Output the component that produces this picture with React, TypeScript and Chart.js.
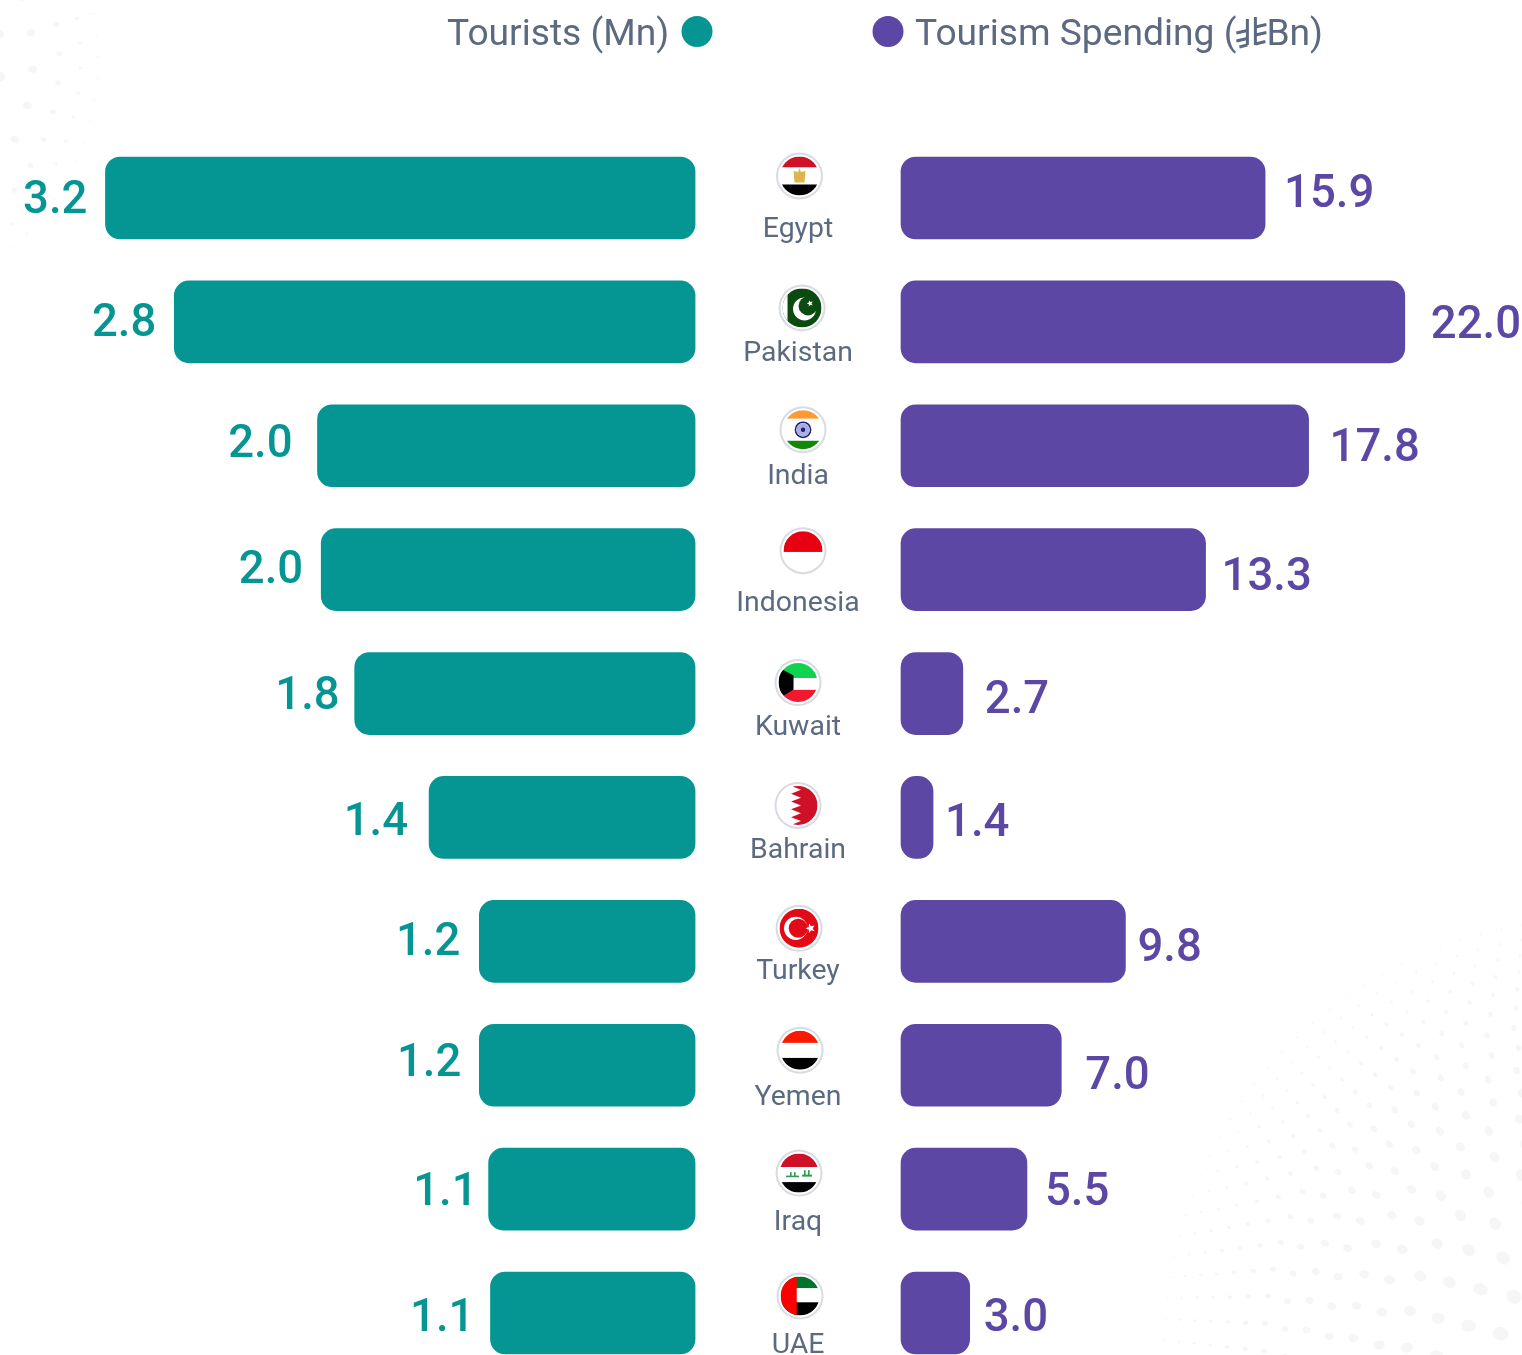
import React, { useEffect, useRef } from "react";
import { Chart, registerables } from "chart.js";

Chart.register(...registerables);

const countries = ["Egypt", "Pakistan", "India", "Indonesia", "Kuwait", "Bahrain", "Turkey", "Yemen", "Iraq", "UAE"];
const tourists = [3.17, 2.8, 2.03, 2.01, 1.83, 1.43, 1.16, 1.16, 1.11, 1.1];
const spending = [15.9, 22.0, 17.8, 13.3, 2.7, 1.4, 9.8, 7.0, 5.5, 3.0];
const touristLabels = ["3.2", "2.8", "2.0", "2.0", "1.8", "1.4", "1.2", "1.2", "1.1", "1.1"];
const spendingLabels = ["15.9", "22.0", "17.8", "13.3", "2.7", "1.4", "9.8", "7.0", "5.5", "3.0"];

// Hand placement of the annotations around each bar (as in the original graphic)
const leftGap = [18, 18, 25, 18, 15, 21, 19, 18, 11, 16];
const leftNudge = [-1, -2, -5, -3, -1, 2, -2, -5, 0, 2];
const rightGap = [19, 26, 21, 16, 22, 12, 12, 24, 18, 14];
const rightNudge = [-7, 0, -1, 4, 3, 3, 4, 8, 0, 2];
const nameBase = [39, 39, 38, 41, 41, 40.5, 38, 40, 41, 40];
const flagDx = [1.5, 4, 5, 5, 0, 0, 1, 2, 1, 2];
const flagDy = [-22, -14, -16, -19, -11, -12, -13, -15, -16, -17];

const TEAL = "#059693";
const PURPLE = "#5c48a4";
const SLATE = "#5b6a80";
const FONT = "Roboto, sans-serif";

type C = CanvasRenderingContext2D;

function bands(c: C, x: number, y: number, r: number, cols: string[], cuts: number[]) {
  const edges = [-r, ...cuts, r];
  cols.forEach((col, i) => {
    c.fillStyle = col;
    c.fillRect(x - r, y + edges[i], 2 * r, edges[i + 1] - edges[i]);
  });
}
function star(c: C, x: number, y: number, R: number, rot: number, col: string) {
  c.fillStyle = col;
  c.beginPath();
  for (let i = 0; i < 10; i++) {
    const a = rot + (i * Math.PI) / 5;
    const q = i % 2 ? R * 0.42 : R;
    c.lineTo(x + q * Math.cos(a), y + q * Math.sin(a));
  }
  c.closePath();
  c.fill();
}
function disc(c: C, x: number, y: number, r: number, col: string) {
  c.fillStyle = col;
  c.beginPath();
  c.arc(x, y, r, 0, Math.PI * 2);
  c.fill();
}

const painters: Record<string, (c: C, x: number, y: number, r: number) => void> = {
  Egypt(c, x, y, r) {
    bands(c, x, y, r, ["#ce1126", "#ffffff", "#000000"], [-8.5, 8.5]);
    c.fillStyle = "#d9b64e";
    c.beginPath();
    c.moveTo(x - 6, y - 5);
    c.lineTo(x - 1.5, y - 4);
    c.lineTo(x, y - 8);
    c.lineTo(x + 1.5, y - 4);
    c.lineTo(x + 6, y - 5);
    c.lineTo(x + 5, y + 6.5);
    c.lineTo(x - 5, y + 6.5);
    c.closePath();
    c.fill();
  },
  Pakistan(c, x, y, r) {
    c.fillStyle = "#0b4b11";
    c.fillRect(x - r, y - r, 2 * r, 2 * r);
    c.fillStyle = "#ffffff";
    c.fillRect(x - r, y - r, 5, 2 * r);
    disc(c, x + 2.5, y + 1, 11.5, "#ffffff");
    disc(c, x + 6, y - 2, 9.5, "#0b4b11");
    star(c, x + 8, y - 4.5, 3.4, -0.6, "#ffffff");
  },
  India(c, x, y, r) {
    bands(c, x, y, r, ["#ff9a33", "#ffffff", "#138808"], [-11, 11]);
    c.strokeStyle = "#1d1f86";
    c.lineWidth = 1.6;
    c.beginPath();
    c.arc(x, y, 7.6, 0, Math.PI * 2);
    c.stroke();
    disc(c, x, y, 6.6, "#aab0da");
    disc(c, x, y, 2.2, "#1d1f86");
  },
  Indonesia(c, x, y, r) {
    bands(c, x, y, r, ["#e70011", "#ffffff"], [1.3]);
  },
  Kuwait(c, x, y, r) {
    bands(c, x, y, r, ["#0fd24e", "#ffffff", "#f31830"], [-4.5, 7.3]);
    c.fillStyle = "#000000";
    c.beginPath();
    c.moveTo(x - r + 2, y - 14);
    c.lineTo(x - 4.5, y - 7);
    c.lineTo(x - 4.5, y + 7);
    c.lineTo(x - r + 2, y + 15);
    c.lineTo(x - r, y + 15);
    c.lineTo(x - r, y - 14);
    c.closePath();
    c.fill();
  },
  Bahrain(c, x, y, r) {
    c.fillStyle = "#ffffff";
    c.fillRect(x - r, y - r, 2 * r, 2 * r);
    c.fillStyle = "#ce1126";
    c.beginPath();
    c.moveTo(x - 7, y - r);
    c.lineTo(x + r, y - r);
    c.lineTo(x + r, y + r);
    c.lineTo(x - 7, y + r);
    const n = 5;
    const h = (2 * r) / n;
    for (let i = n - 1; i >= 0; i--) {
      c.lineTo(x + 3, y - r + (i + 0.5) * h);
      c.lineTo(x - 7, y - r + i * h);
    }
    c.closePath();
    c.fill();
  },
  Turkey(c, x, y, r) {
    c.fillStyle = "#e30a17";
    c.fillRect(x - r, y - r, 2 * r, 2 * r);
    disc(c, x - 3.3, y, 11.7, "#ffffff");
    disc(c, x - 0.8, y, 9.5, "#e30a17");
    star(c, x + 11.5, y, 5, Math.PI, "#ffffff");
  },
  Yemen(c, x, y, r) {
    bands(c, x, y, r, ["#f91a00", "#ffffff", "#000000"], [-7.3, 7.7]);
  },
  Iraq(c, x, y, r) {
    bands(c, x, y, r, ["#ce1126", "#ffffff", "#000000"], [-6, 9]);
    c.fillStyle = "#2f9a55";
    c.fillRect(x - 13, y + 2.5, 13, 1.6);
    c.fillRect(x + 3, y + 1.5, 10, 2);
    c.fillRect(x + 5, y - 3, 1.6, 5);
    c.fillRect(x + 9, y - 3, 1.6, 5);
    c.fillRect(x - 9, y - 1, 1.6, 4);
    c.fillRect(x - 5, y - 1, 1.6, 4);
  },
  UAE(c, x, y, r) {
    bands(c, x, y, r, ["#00732f", "#ffffff", "#000000"], [-7.7, 6.3]);
    c.fillStyle = "#ff0000";
    c.fillRect(x - r, y - r, r - 3.3, 2 * r);
  },
};

function drawFlag(c: C, name: string, x: number, y: number) {
  const r = 19.5;
  disc(c, x, y, 23.5, "#d7dbe2");
  disc(c, x, y, 21.5, "#ffffff");
  c.save();
  c.beginPath();
  c.arc(x, y, r, 0, Math.PI * 2);
  c.clip();
  painters[name](c, x, y, r);
  c.restore();
}

function dotField(c: C, cx: number, cy: number, inner: number, outer: number, from: number, to: number, maxR: number) {
  c.fillStyle = "#f6f6f6";
  let radius = inner;
  let ring = 0;
  while (radius < outer) {
    const t = (outer - radius) / (outer - inner);
    const step = 13 + 20 * t;
    const count = Math.round((radius * (to - from)) / (step + 8));
    for (let i = 0; i <= count; i++) {
      const a = from + ((i + (ring % 2) * 0.5) / count) * (to - from);
      c.beginPath();
      c.ellipse(cx + radius * Math.cos(a), cy + radius * Math.sin(a), 1 + maxR * t, 0.7 + maxR * 0.85 * t, a, 0, Math.PI * 2);
      c.fill();
    }
    radius += step;
    ring++;
  }
}

function riyal(c: C, x: number, y: number) {
  c.save();
  c.strokeStyle = SLATE;
  c.lineWidth = 3;
  c.lineCap = "butt";
  const seg = (a: number, b: number, d: number, e: number) => {
    c.beginPath();
    c.moveTo(x + a, y + b);
    c.lineTo(x + d, y + e);
    c.stroke();
  };
  seg(11, 1, 11, 27);
  seg(19, -1, 19, 27);
  seg(11, 27, 3, 29);
  seg(0, 15, 11, 12.5);
  seg(0, 23, 11, 20.5);
  seg(19, 9, 30, 6.5);
  seg(19, 17, 30, 14.5);
  seg(19, 26, 29, 23.5);
  c.restore();
}

const decoration = {
  id: "decoration",
  beforeDatasetsDraw(chart: any) {
    const c: C = chart.ctx;
    c.save();
    dotField(c, 1590, 1345, 90, 430, Math.PI * 0.9, Math.PI * 1.6, 7);
    dotField(c, -150, 60, 150, 250, -0.45, 0.95, 5);
    c.restore();
  },
  afterDatasetsDraw(chart: any) {
    const c: C = chart.ctx;
    const leftBars = chart.getDatasetMeta(0).data;
    const rightBars = chart.getDatasetMeta(1).data;
    const mid = (chart.scales.xL.getPixelForValue(0) + chart.scales.xR.getPixelForValue(0)) / 2;
    c.save();
    c.textBaseline = "alphabetic";

    // value labels
    c.font = `500 45.5px ${FONT}`;
    countries.forEach((_, i) => {
      c.fillStyle = TEAL;
      c.textAlign = "right";
      c.fillText(touristLabels[i], leftBars[i].x - leftGap[i], leftBars[i].y + leftNudge[i] + 16);
      c.fillStyle = PURPLE;
      c.textAlign = "left";
      c.fillText(spendingLabels[i], rightBars[i].x + rightGap[i], rightBars[i].y + rightNudge[i] + 16);
    });

    // country names and flags
    countries.forEach((name, i) => {
      const y = chart.scales.y.getPixelForValue(i);
      c.font = `400 28.4px ${FONT}`;
      c.fillStyle = SLATE;
      c.textAlign = "center";
      c.fillText(name, mid, y + nameBase[i]);
      drawFlag(c, name, mid + flagDx[i], y + flagDy[i]);
    });

    // legend
    const baseline = 45;
    disc(c, 697, 31.5, 15.5, TEAL);
    disc(c, 888, 31.5, 15.5, PURPLE);
    c.font = `400 37.2px ${FONT}`;
    c.fillStyle = SLATE;
    c.textAlign = "left";
    c.fillText(chart.data.datasets[0].label, 447, baseline);
    const head = "Tourism Spending (";
    c.fillText(head, 915, baseline);
    const w = c.measureText(head).width;
    riyal(c, 915 + w, 18);
    c.fillText("Bn)", 915 + w + 30, baseline);
    c.restore();
  },
};

export default function App() {
  const ref = useRef<HTMLCanvasElement>(null);
  useEffect(() => {
    const chart = new Chart(ref.current!, {
      type: "bar",
      data: {
        labels: countries,
        datasets: [
          { label: "Tourists (Mn)", data: tourists, xAxisID: "xL", backgroundColor: TEAL, clip: false },
          { label: "Tourism Spending (Bn)", data: spending, xAxisID: "xR", backgroundColor: PURPLE, clip: false },
        ],
      },
      plugins: [decoration],
      options: {
        indexAxis: "y",
        animation: false,
        responsive: false,
        layout: { padding: { top: 198, bottom: 42, left: 0, right: 0 } },
        datasets: {
          bar: { grouped: false, barThickness: 82, borderRadius: 15, borderSkipped: false },
        },
        plugins: { legend: { display: false }, tooltip: { enabled: false } },
        scales: {
          y: { type: "category", offset: false, display: false },
          xL: { type: "linear", reverse: true, display: false, position: "bottom", min: -4.446, max: 3.737 },
          xR: { type: "linear", display: false, position: "bottom", min: -39.345, max: 27.118 },
        },
      },
    } as any);
    return () => chart.destroy();
  }, []);
  return (
    <div style={{ position: "absolute", left: 0, top: 0, width: 1522, height: 1355, background: "#ffffff", overflow: "hidden" }}>
      <canvas ref={ref} width={1522} height={1355} style={{ display: "block" }} />
    </div>
  );
}
